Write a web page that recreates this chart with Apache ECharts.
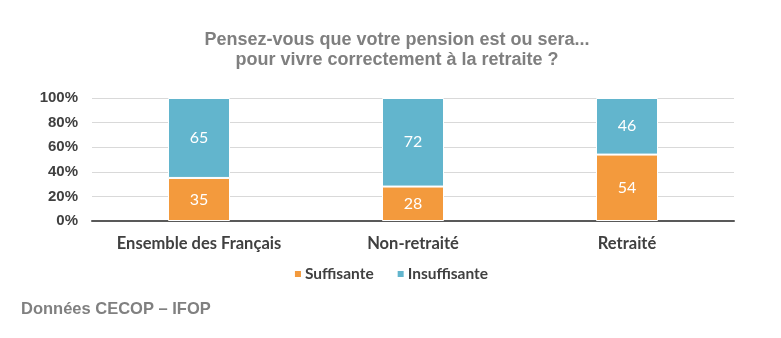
<!DOCTYPE html>
<html><head><meta charset="utf-8">
<script src="https://cdn.jsdelivr.net/npm/echarts@6/dist/echarts.min.js"></script>
<style>html,body{margin:0;padding:0;background:#fff}#c{width:781px;height:338px}</style>
</head><body><div id="c"></div>
<script>
const categories = ['Ensemble des Français', 'Non-retraité', 'Retraité'];
const suffisante = [35, 28, 54];
const insuffisante = [65, 72, 46];
const seriesNames = ['Suffisante', 'Insuffisante'];
const titleLines = ['Pensez-vous que votre pension est ou sera...', 'pour vivre correctement à la retraite ?'];
const sourceText = 'Données CECOP – IFOP';

const chart = echarts.init(document.getElementById('c'), null, {renderer: 'canvas'});
const lbl = {show: true, position: 'inside', color: '#fff', fontSize: 16, fontFamily: 'Lato'};
chart.setOption({
  animation: false,
  graphic: [{
    type: 'text', x: 397, y: 30,
    style: {text: titleLines.join('\n'), align: 'center', verticalAlign: 'top', fill: '#7f7f7f',
      font: 'bold 18px "Liberation Sans"', lineHeight: 20}
  }],
  title: [{
    text: sourceText, left: 16, top: 296,
    textStyle: {color: '#808080', fontSize: 16.5, fontWeight: 'bold', fontFamily: 'Liberation Sans'}
  }],
  legend: {
    data: seriesNames, top: 261, left: 'center', itemWidth: 8, itemHeight: 8, itemGap: 22,
    icon: 'rect',
    textStyle: {color: '#404040', fontSize: 15.5, fontWeight: 'bold', fontFamily: 'Lato', padding: [0, 0, 0, -2]}
  },
  grid: {left: 92, right: 47, top: 98, bottom: 117},
  xAxis: {
    type: 'category', data: categories,
    axisLine: {lineStyle: {color: '#595959', width: 2}},
    axisTick: {show: false},
    axisLabel: {color: '#404040', fontSize: 16.5, fontWeight: 'bold', fontFamily: 'Lato', margin: 14}
  },
  yAxis: {
    type: 'value', min: 0, max: 100, interval: 20,
    axisLabel: {formatter: '{value}%', color: '#404040', fontSize: 15, fontWeight: 'bold', fontFamily: 'Liberation Sans', margin: 14},
    splitLine: {lineStyle: {color: '#d9d9d9', width: 1}},
    axisLine: {show: false}, axisTick: {show: false}
  },
  series: [
    {name: seriesNames[0], type: 'bar', stack: 's', data: suffisante, barWidth: 62,
     itemStyle: {color: '#f39a3d', borderColor: '#fff', borderWidth: 1}, label: lbl},
    {name: seriesNames[1], type: 'bar', stack: 's', data: insuffisante, barWidth: 62,
     itemStyle: {color: '#62b5cd', borderColor: '#fff', borderWidth: 1}, label: lbl}
  ]
});
</script></body></html>
